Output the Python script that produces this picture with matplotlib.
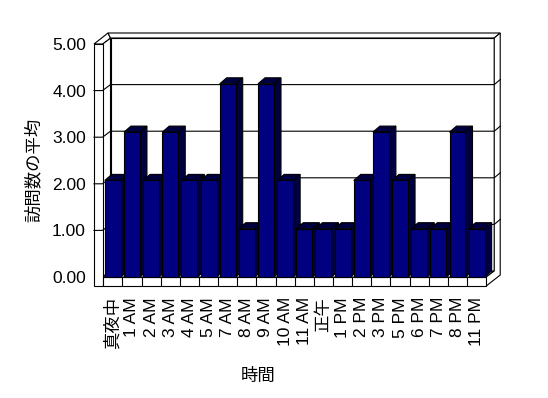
import numpy as np
import matplotlib
matplotlib.use('Agg')
import matplotlib.pyplot as plt
from matplotlib.patches import Polygon, Rectangle

plt.rcParams['font.family'] = ['Liberation Sans', 'Noto Sans CJK JP']

# data
hours = ['真夜中', '1 AM', '2 AM', '3 AM', '4 AM', '5 AM', '7 AM', '8 AM', '9 AM', '10 AM',
         '11 AM', '正午', '1 PM', '2 PM', '3 PM', '5 PM', '6 PM', '7 PM', '8 PM', '11 PM']
visits = [2, 3, 2, 3, 2, 2, 4, 1, 4, 2, 1, 1, 1, 2, 3, 2, 1, 1, 3, 1]
y_ticks = [0, 1, 2, 3, 4, 5]
y_labels = ['0.00', '1.00', '2.00', '3.00', '4.00', '5.00']
x_title = '時間'
y_title = '訪問数の平均'

W, H = 548, 398
fig = plt.figure(figsize=(W / 100, H / 100), dpi=100)

# layout of the fake 3d box, in pixels
cat0 = 112.8      # centre of first category
step = 19.15      # pixels per category
base = 277        # pixel row of value 0
unit = 46.6       # pixels per unit on the walls
bar_unit = 48.3   # bars sit in front, so a bit taller
left, right, top, bottom = 94, 500, 32, 286
inner = 102.5     # inner edge of the left wall

pos = [left / W, 1 - bottom / H, (right - left) / W, (bottom - top) / H]
xlim = ((left - cat0) / step, (right - cat0) / step)

ax = fig.add_axes(pos)
ax.set_xlim(xlim)
ax.set_ylim((base - bottom) / unit, (base - top) / unit)
for s in ax.spines.values():
    s.set_visible(False)
ax.patch.set_visible(False)

lw = 0.8
d1x, d1y = 8 / step, 6 / unit      # front of back wall
d2x, d2y = 14 / step, 11 / unit    # back of back wall
xo = (left - cat0) / step
xi = (inner - cat0) / step
xr = len(hours) - 0.5
fl = (base - bottom) / unit
vmax = y_ticks[-1]

def box(pts, z=1, fc='white'):
    ax.add_patch(Polygon(pts, closed=True, facecolor=fc, edgecolor='black',
                         lw=lw, clip_on=False, zorder=z))

# walls and floor
box([(xi + d1x, d1y), (xr + d1x, d1y), (xr + d1x, vmax + d1y), (xi + d1x, vmax + d1y)])
box([(xi, 0), (xi + d1x, d1y), (xi + d1x, vmax + d1y), (xi, vmax)])
box([(xi, 0), (xr, 0), (xr + d1x, d1y), (xi + d1x, d1y)])
box([(xo, vmax), (xi, vmax), (xi + d1x, vmax + d1y), (xo + d2x, vmax + d2y)])
box([(xi + d1x, vmax + d1y), (xr + d1x, vmax + d1y), (xr + d2x, vmax + d2y), (xo + d2x, vmax + d2y)])
box([(xr, fl), (xr + d2x, fl + d2y), (xr + d2x, vmax + d2y), (xr + d1x, vmax + d1y),
     (xr + d1x, d1y), (xr, 0)])
ax.add_patch(Rectangle((xo, fl), xi - xo, vmax - fl, facecolor='white', edgecolor='black',
                       lw=lw, clip_on=False, zorder=1))
ax.add_patch(Rectangle((xi, fl), xr - xi, -fl, facecolor='white', edgecolor='black',
                       lw=lw, clip_on=False, zorder=1))
ax.vlines(np.arange(len(hours) - 1) + 0.5, fl, 0, color='black', lw=lw, zorder=2)

# gridlines running over the left wall, back wall and its right end
for v in y_ticks[1:-1]:
    ax.plot([xo, xi, xi + d1x, xr + d1x, xr + d2x],
            [v, v, v + d1y, v + d1y, v + d2y], color='black', lw=lw, zorder=2,
            clip_on=False)

ax.set_yticks(y_ticks, y_labels)
ax.set_xticks(range(len(hours)), hours, rotation=90)
ax.tick_params(axis='y', length=0, pad=5.8, labelsize=12.5)
ax.tick_params(axis='x', length=0, pad=8, labelsize=12.5)

# bars on their own axes (slightly larger scale)
ax2 = fig.add_axes(pos)
ax2.set_xlim(xlim)
ax2.set_ylim((base - bottom) / bar_unit, (base - top) / bar_unit)
ax2.axis('off')

bw = 0.835
bdx, bdy = 7 / step, 6 / bar_unit
bars = ax2.bar(range(len(hours)), visits, width=bw, color='#000080',
               edgecolor='black', lw=lw)
for i, (b, h) in enumerate(zip(bars, visits)):
    x0, x1 = i - bw / 2, i + bw / 2
    b.set_zorder(10 + 2 * i + 1)
    ax2.add_patch(Polygon([(x0, h), (x1, h), (x1 + bdx, h + bdy), (x0 + bdx, h + bdy)],
                          facecolor='#000040', edgecolor='black', lw=lw, zorder=10 + 2 * i))
    ax2.add_patch(Polygon([(x1, 0), (x1, h), (x1 + bdx, h + bdy), (x1 + bdx, bdy)],
                          facecolor='#000040', edgecolor='black', lw=lw, zorder=10 + 2 * i))

fig.text(258 / W, 1 - 376 / H, x_title, ha='center', va='center', fontsize=12.5)
fig.text(33 / W, 1 - 170 / H, y_title, ha='center', va='center', rotation=90, fontsize=12.5)

fig.savefig('out.png', dpi=100)
